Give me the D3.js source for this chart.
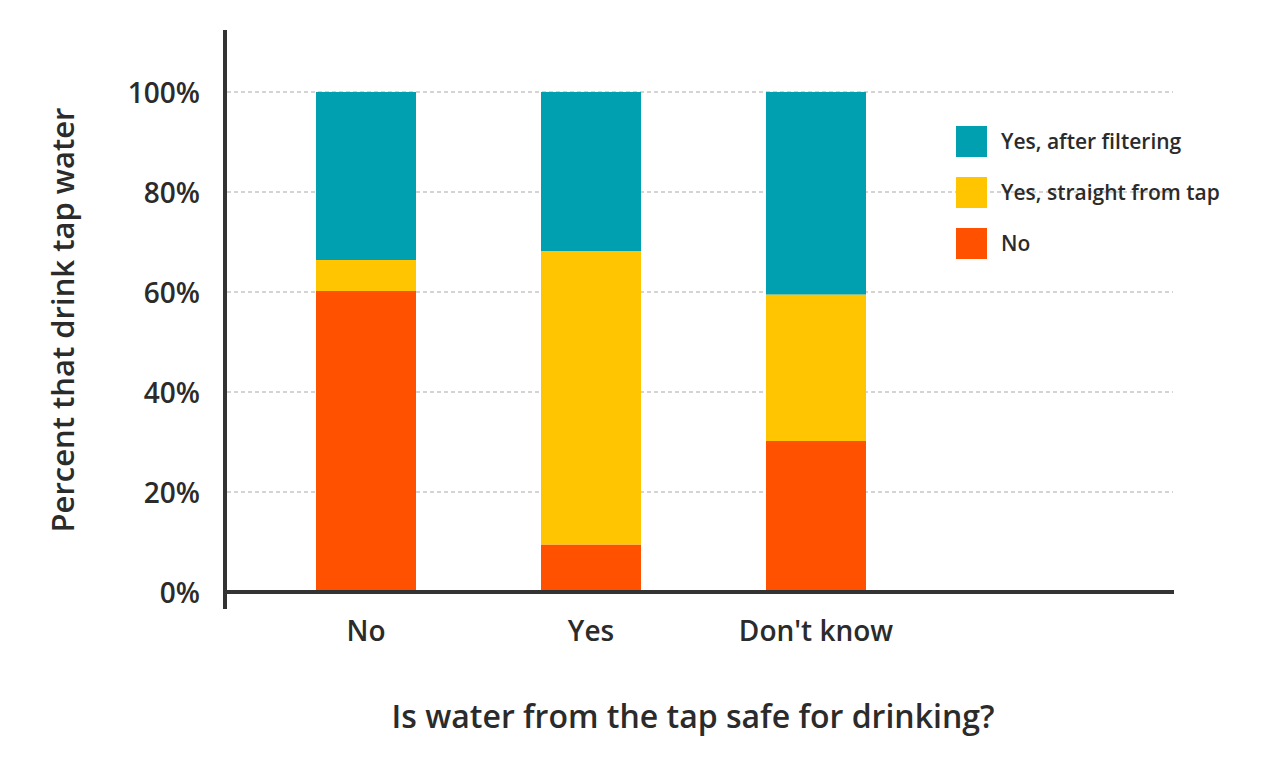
<!DOCTYPE html>
<html>
<head>
<meta charset="utf-8">
<script src="https://cdn.jsdelivr.net/npm/d3@7"></script>
<style>
  body { margin: 0; background: #fff; }
  text { font-family: "Open Sans", Lato, sans-serif; font-weight: 600; fill: #2b2b2b; }
</style>
</head>
<body>
<div id="chart"></div>
<script>
// data
var categories = ["No", "Yes", "Don't know"];
var seriesNames = ["No", "Yes, straight from tap", "Yes, after filtering"];
var noValues = [60.2, 9.5, 30.2];
var straightValues = [6.2, 58.7, 29.3];
var filteredValues = [33.6, 31.8, 40.5];
var yTicks = [0, 20, 40, 60, 80, 100];
var colors = ["#ff5100", "#ffc500", "#00a0b0"];

var svgWidth = 1276;
var svgHeight = 773;

var svg = d3.select("#chart")
  .append("svg")
  .attr("width", svgWidth)
  .attr("height", svgHeight);

// scales
var xBandScale = d3.scaleBand()
  .domain(categories)
  .range([253.5, 928.5])
  .paddingInner(125 / 225)
  .paddingOuter(62.5 / 225);

var yLinearScale = d3.scaleLinear().domain([0, 100]).range([592, 92]);

// stack the three series
var table = categories.map(function (c, i) {
  return { cat: c, s0: noValues[i], s1: straightValues[i], s2: filteredValues[i] };
});
var stack = d3.stack().keys(["s0", "s1", "s2"]);
var layers = stack(table);

// gridlines
svg.append("g")
  .selectAll("line")
  .data(yTicks)
  .enter()
  .append("line")
  .attr("x1", 227)
  .attr("x2", 1173)
  .attr("y1", function (d) { return yLinearScale(d); })
  .attr("y2", function (d) { return yLinearScale(d); })
  .attr("stroke", "#d4d4d4")
  .attr("stroke-width", 2)
  .attr("stroke-dasharray", "4,3");

// bars
svg.append("g")
  .selectAll("g")
  .data(layers)
  .enter()
  .append("g")
  .attr("fill", function (d, i) { return colors[i]; })
  .selectAll("rect")
  .data(function (d) { return d; })
  .enter()
  .append("rect")
  .attr("x", function (d) { return xBandScale(d.data.cat); })
  .attr("y", function (d) { return yLinearScale(d[1]); })
  .attr("width", xBandScale.bandwidth())
  .attr("height", function (d) { return yLinearScale(d[0]) - yLinearScale(d[1]); });

// y axis labels
var leftAxis = d3.axisLeft(yLinearScale)
  .tickValues(yTicks)
  .tickSize(0)
  .tickPadding(0)
  .tickFormat(function (d) { return d + "%"; });

var yAxisG = svg.append("g")
  .attr("transform", "translate(200, 0)")
  .call(leftAxis);
yAxisG.select(".domain").remove();
yAxisG.selectAll("text")
  .attr("font-size", 28)
  .attr("font-family", "'Open Sans', sans-serif")
  .attr("font-weight", 600)
  .attr("fill", "#2b2b2b")
  .attr("dy", "0.36em");

// x axis labels
var bottomAxis = d3.axisBottom(xBandScale).tickSize(0).tickPadding(0);
var xAxisG = svg.append("g")
  .attr("transform", "translate(0, 621)")
  .call(bottomAxis);
xAxisG.select(".domain").remove();
xAxisG.selectAll("text")
  .attr("font-size", 28)
  .attr("font-family", "'Open Sans', sans-serif")
  .attr("font-weight", 600)
  .attr("fill", "#2b2b2b")
  .attr("dy", "0.71em");

// axis lines
svg.append("line")
  .attr("x1", 225).attr("x2", 225)
  .attr("y1", 30).attr("y2", 609)
  .attr("stroke", "#333").attr("stroke-width", 4);
svg.append("line")
  .attr("x1", 223).attr("x2", 1174)
  .attr("y1", 592).attr("y2", 592)
  .attr("stroke", "#333").attr("stroke-width", 4);

// titles
svg.append("text")
  .attr("x", 693)
  .attr("y", 728)
  .attr("text-anchor", "middle")
  .attr("font-size", 32)
  .text("Is water from the tap safe for drinking?");

svg.append("text")
  .attr("transform", "translate(74, 320) rotate(-90)")
  .attr("text-anchor", "middle")
  .attr("font-size", 31)
  .text("Percent that drink tap water");

// legend (top to bottom: filtering, straight, no)
var legendOrder = [2, 1, 0];
var legend = svg.append("g")
  .selectAll("g")
  .data(legendOrder)
  .enter()
  .append("g")
  .attr("transform", function (d, i) { return "translate(956, " + (126 + i * 51) + ")"; });

legend.append("rect")
  .attr("width", 31)
  .attr("height", 31)
  .attr("fill", function (d) { return colors[d]; });

legend.append("text")
  .attr("x", 45)
  .attr("y", 15.5)
  .attr("dy", "0.35em")
  .attr("font-size", 21)
  .text(function (d) { return seriesNames[d]; });
</script>
</body>
</html>
